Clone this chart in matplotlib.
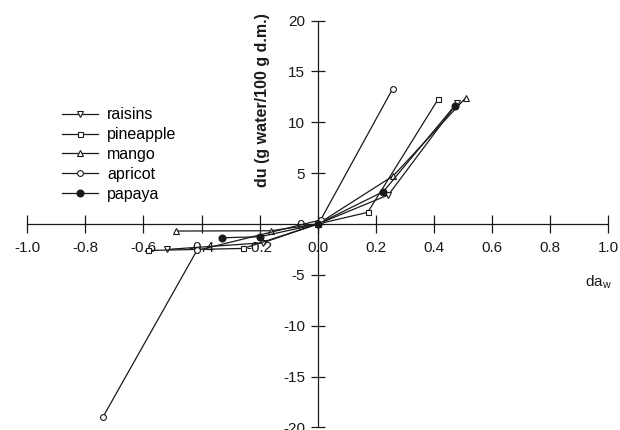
import matplotlib
matplotlib.use("Agg")
import matplotlib.pyplot as plt

plt.rcParams['font.family'] = ['Liberation Sans', 'DejaVu Sans']

# data (da_w, du)
raisins_x = [-0.52, -0.19, 0.0, 0.243, 0.48]
raisins_y = [-2.5, -1.85, 0.0, 2.86, 11.9]
pineapple_x = [-0.583, -0.256, 0.0, 0.172, 0.415]
pineapple_y = [-2.6, -2.4, 0.0, 1.15, 12.3]
mango_x = [-0.488, -0.161, 0.0, 0.26, 0.509]
mango_y = [-0.69, -0.66, 0.0, 4.74, 12.4]
apricot_x = [-0.74, -0.416, 0.01, 0.258]
apricot_y = [-19.0, -2.6, 0.4, 13.3]
papaya_x = [-0.329, -0.199, 0.0, 0.226, 0.472]
papaya_y = [-1.35, -1.25, 0.0, 3.19, 11.65]

xticks = [-1.0, -0.8, -0.6, -0.4, -0.2, 0.0, 0.2, 0.4, 0.6, 0.8, 1.0]
yticks = [-20, -15, -10, -5, 0, 5, 10, 15, 20]

fig = plt.figure(figsize=(6.2, 4.3), dpi=100)
ax = fig.add_axes([0.044, 0.006, 0.937, 0.946])

c = '#1a1a1a'
ax.plot(raisins_x, raisins_y, color=c, lw=0.9, marker='v', ms=4.2,
        mfc='white', mec=c, mew=0.8, label='raisins')
ax.plot(pineapple_x, pineapple_y, color=c, lw=0.9, marker='s', ms=3.6,
        mfc='white', mec=c, mew=0.8, label='pineapple')
ax.plot(mango_x, mango_y, color=c, lw=0.9, marker='^', ms=4.2,
        mfc='white', mec=c, mew=0.8, label='mango')
ax.plot(apricot_x, apricot_y, color=c, lw=0.9, marker='o', ms=4.2,
        mfc='white', mec=c, mew=0.8, label='apricot')
ax.plot(papaya_x, papaya_y, color=c, lw=0.9, marker='o', ms=4.8,
        mfc=c, mec=c, label='papaya')

ax.set_xlim(-1.0, 1.0)
ax.set_ylim(-20, 20)
ax.set_xticks(xticks)
ax.set_yticks(yticks)
ax.set_xticklabels([f"{v:.1f}" for v in xticks])
ax.set_yticklabels([str(v) for v in yticks])

# axes crossing at the origin
ax.spines['left'].set_position(('data', 0))
ax.spines['bottom'].set_position(('data', 0))
ax.spines['right'].set_visible(False)
ax.spines['top'].set_visible(False)
for s in ('left', 'bottom'):
    ax.spines[s].set_linewidth(0.9)
    ax.spines[s].set_color(c)
ax.tick_params(axis='both', direction='inout', width=0.9,
               color=c, labelsize=11, labelcolor=c)
ax.tick_params(axis='x', length=13, pad=6)
ax.tick_params(axis='y', length=10, pad=4)
ax.patch.set_visible(False)

fig.text(262 / 620, 1 - 100 / 430, 'du (g water/100 g d.m.)', rotation=90,
         ha='center', va='center', fontsize=11.5, fontweight='bold', color=c)
fig.text(598 / 620, 1 - 282 / 430, r'da$_\mathregular{w}$', ha='center',
         va='center', fontsize=11, color=c)

ax.legend(loc='upper left', bbox_to_anchor=(0.048, 0.803), frameon=False,
          fontsize=11.5, handlelength=2.3, labelspacing=0.31,
          handletextpad=0.55, borderaxespad=0)

fig.savefig('out.png', dpi=100)
